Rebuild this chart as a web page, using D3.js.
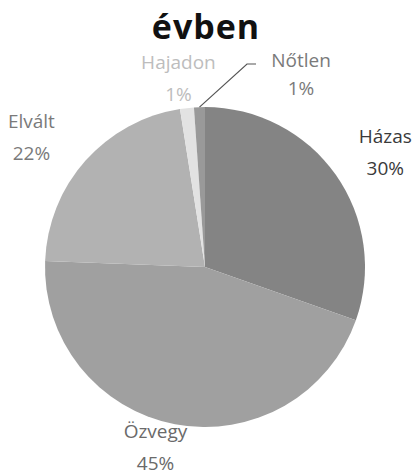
<!DOCTYPE html>
<html>
<head>
<meta charset="utf-8">
<script src="https://cdn.jsdelivr.net/npm/d3@7"></script>
<style>
  body { margin: 0; background: #fff; }
  svg { display: block; }
</style>
</head>
<body>
<div class="chart"></div>
<script>
// data, clockwise from 12 o'clock
var categories = ["Házas", "Özvegy", "Elvált", "Hajadon", "Nőtlen"];
var shares = [30.4, 45.2, 21.9, 1.4, 1.1];
var pctLabels = ["30%", "45%", "22%", "1%", "1%"];
var title = "évben";

var width = 417, height = 475,
    cx = 205, cy = 267, radius = 160;

var fills = ["#848484", "#a0a0a0", "#b2b2b2", "#e2e2e2", "#999999"];
var textFills = ["#3a3a3a", "#6a6a6a", "#7a7a7a", "#bdbdbd", "#7a7a7a"];
// label radius + nudges per slice
var labelNudge = [[17, -5], [-12, -22], [-24, -3], [-4, 4], [0, 0]];

var svg = d3.select("div.chart").append("svg")
    .attr("width", width)
    .attr("height", height);

svg.append("text")
    .attr("x", 206)
    .attr("y", 39)
    .attr("text-anchor", "middle")
    .style("font-family", "'Open Sans', sans-serif")
    .style("font-weight", "bold")
    .style("font-size", "34px")
    .style("letter-spacing", "1px")
    .style("fill", "#111")
    .text(title);

var pie = d3.pie().sort(null).value(function(d) { return d; });
var arcs = pie(shares);

var arc = d3.arc().innerRadius(0).outerRadius(radius);

var g = svg.append("g")
    .attr("transform", "translate(" + cx + "," + cy + ")");

g.selectAll("path")
    .data(arcs)
  .enter().append("path")
    .attr("d", arc)
    .style("fill", function(d, i) { return fills[i]; });

// labels
var labelR = 200;
function labelXY(d, i) {
  var a = (d.startAngle + d.endAngle) / 2;
  return [Math.sin(a) * labelR + labelNudge[i][0], -Math.cos(a) * labelR + labelNudge[i][1]];
}

var labels = g.selectAll("g.lbl")
    .data(arcs.slice(0, 4))
  .enter().append("g")
    .attr("class", "lbl")
    .attr("transform", function(d, i) { var p = labelXY(d, i); return "translate(" + p[0] + "," + p[1] + ")"; })
    .style("font-family", "'Open Sans', sans-serif")
    .style("font-size", "19px")
    .style("fill", function(d, i) { return textFills[i]; })
    .attr("text-anchor", "middle");

labels.append("text").attr("y", -3).text(function(d, i) { return categories[i]; });
labels.append("text").attr("y", 29).text(function(d, i) { return pctLabels[i]; });

// Nőtlen with a leader line
var nt = arcs[4];
var na = (nt.startAngle + nt.endAngle) / 2;
var rimX = Math.sin(na) * radius, rimY = -Math.cos(na) * radius;
var lx = 301 - cx, ly = 75 - cy;

g.append("polyline")
    .attr("points", [[rimX, rimY], [lx - 54, ly - 11], [lx - 45, ly - 11]].map(function(p) { return p.join(","); }).join(" "))
    .style("fill", "none")
    .style("stroke", "#555")
    .style("stroke-width", 1.2);

var nl = g.append("g")
    .attr("transform", "translate(" + lx + "," + ly + ")")
    .style("font-family", "'Open Sans', sans-serif")
    .style("font-size", "19px")
    .style("fill", textFills[4])
    .attr("text-anchor", "middle");
nl.append("text").attr("y", -8).text(categories[4]);
nl.append("text").attr("y", 20).text(pctLabels[4]);
</script>
</body>
</html>
